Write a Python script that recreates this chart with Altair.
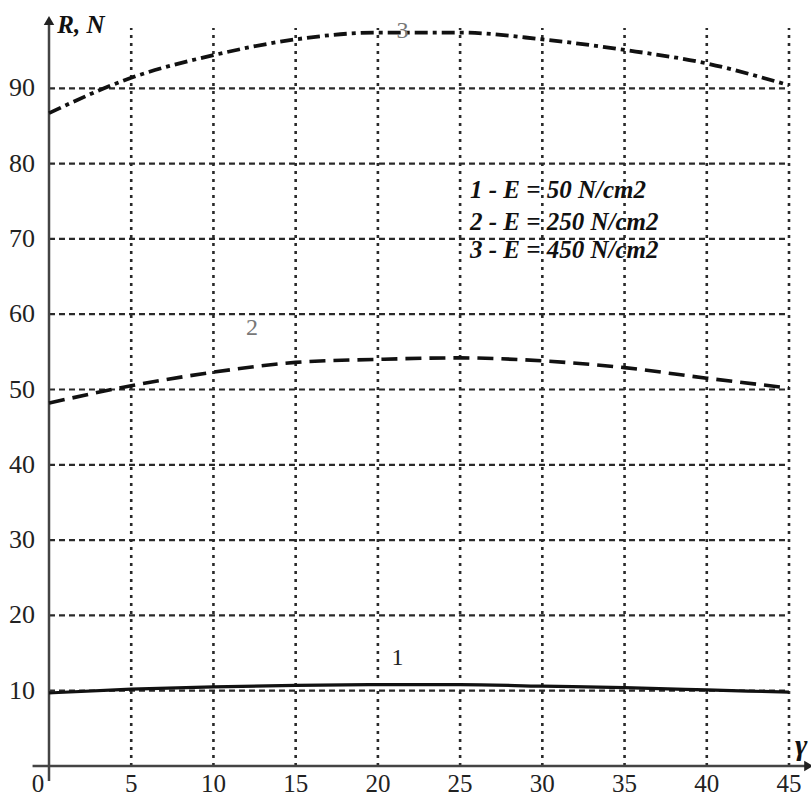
import altair as alt
import pandas as pd

# ---- data ----
gamma = [0, 5, 10, 15, 20, 25, 30, 35, 40, 45]
r1 = [9.7, 10.2, 10.5, 10.7, 10.8, 10.8, 10.6, 10.4, 10.1, 9.8]
r2 = [48.2, 50.5, 52.3, 53.6, 54.0, 54.2, 53.8, 52.9, 51.5, 50.2]
r3 = [86.7, 91.4, 94.4, 96.5, 97.4, 97.4, 96.5, 95.1, 93.3, 90.4]

x_ticks = [5, 10, 15, 20, 25, 30, 35, 40, 45]
y_ticks = [10, 20, 30, 40, 50, 60, 70, 80, 90]
legend_lines = ["1 - E = 50 N/cm2", "2 - E = 250 N/cm2", "3 - E = 450 N/cm2"]
legend_y = [76.5, 72.3, 68.5]
curve_labels = ["1", "2", "3"]
curve_label_x = [21.2, 12.35, 21.5]
curve_label_y = [14.3, 58.2, 97.6]

FONT = "Liberation Serif"
GRID = "#2a2a2a"

xs = alt.Scale(domain=[0, 45], nice=False, zero=False)
ys = alt.Scale(domain=[0, 100], nice=False, zero=False)

def X(f, **kw):
    return alt.X(f, type="quantitative", scale=xs, axis=None, **kw)

def Y(f, **kw):
    return alt.Y(f, type="quantitative", scale=ys, axis=None, **kw)

curves = pd.DataFrame({"g": gamma, "r1": r1, "r2": r2, "r3": r3})

gh = pd.DataFrame({"y": y_ticks, "x0": 0, "x1": 45})
gv = pd.DataFrame({"x": x_ticks, "y0": 0, "y1": 98})

grid_h = alt.Chart(gh).mark_rule(color=GRID, strokeWidth=2.2, strokeDash=[6, 4]).encode(
    x=X("x0"), x2="x1", y=Y("y"))
grid_v = alt.Chart(gv).mark_rule(color=GRID, strokeWidth=2.6, strokeDash=[3, 5]).encode(
    x=X("x"), y=Y("y0"), y2="y1")

axes_df = pd.DataFrame({"xa0": [-1.0], "xa1": [46.2], "ya0": [-2.0], "ya1": [99.0], "z": [0]})
x_axis = alt.Chart(axes_df).mark_rule(color="#444", strokeWidth=2.5, clip=False).encode(
    x=X("xa0"), x2="xa1", y=Y("z"))
y_axis = alt.Chart(axes_df).mark_rule(color="#444", strokeWidth=2.5, clip=False).encode(
    x=X("z"), y=Y("ya0"), y2="ya1")
arrow_x = alt.Chart(axes_df).mark_point(shape="triangle-right", filled=True, color="#222",
                                        size=110, opacity=1, clip=False).encode(
    x=X("xa1"), y=Y("z"))
arrow_y = alt.Chart(axes_df).mark_point(shape="triangle-up", filled=True, color="#222",
                                        size=110, opacity=1, clip=False).encode(
    x=X("z"), y=Y("ya1"))

line1 = alt.Chart(curves).mark_line(color="#111", strokeWidth=3.2, interpolate="monotone").encode(
    x=X("g"), y=Y("r1"))
line2 = alt.Chart(curves).mark_line(color="#111", strokeWidth=3.6, strokeDash=[16, 8],
                                    interpolate="monotone").encode(x=X("g"), y=Y("r2"))
line3 = alt.Chart(curves).mark_line(color="#111", strokeWidth=3.8, strokeDash=[13, 5, 4, 5],
                                    interpolate="monotone").encode(x=X("g"), y=Y("r3"))

xl = pd.DataFrame({"v": x_ticks, "t": [str(v) for v in x_ticks], "z": 0})
yl = pd.DataFrame({"v": y_ticks, "t": [str(v) for v in y_ticks], "z": 0})
x_labels = alt.Chart(xl).mark_text(font=FONT, fontSize=25, color="#222", dy=18,
                                   baseline="middle", align="center", clip=False).encode(
    x=X("v"), y=Y("z"), text="t:N")
zero_label = alt.Chart(pd.DataFrame({"v": [0], "t": ["0"]})).mark_text(
    font=FONT, fontSize=25, color="#222", dy=18, dx=-11, baseline="middle", align="center",
    clip=False).encode(x=X("v"), y=Y("v"), text="t:N")
y_labels = alt.Chart(yl).mark_text(font=FONT, fontSize=26, color="#222", dx=-14,
                                   baseline="middle", align="right", clip=False).encode(
    x=X("z"), y=Y("v"), text="t:N")

leg = pd.DataFrame({"t": legend_lines, "y": legend_y, "x": 25.6})
legend = alt.Chart(leg).mark_text(font=FONT, fontSize=25, fontStyle="italic", fontWeight="bold",
                                  color="#111", align="left", baseline="middle").encode(
    x=X("x"), y=Y("y"), text="t:N")

cl = pd.DataFrame({"t": curve_labels, "x": curve_label_x, "y": curve_label_y,
                   "c": ["#222", "#777", "#777"]})
clabels = alt.Chart(cl).mark_text(font=FONT, fontSize=24, align="center",
                                  baseline="middle", clip=False).encode(
    x=X("x"), y=Y("y"), text="t:N", color=alt.Color("c:N", scale=None))

titles = pd.DataFrame({"t": ["R, N"], "x": [0.5], "y": [98.4]})
rn = alt.Chart(titles).mark_text(font=FONT, fontSize=25, fontStyle="italic", fontWeight="bold",
                                 color="#111", align="left", baseline="middle", clip=False).encode(
    x=X("x"), y=Y("y"), text="t:N")
gm = alt.Chart(pd.DataFrame({"t": ["γ"], "x": [45.75], "y": [2.7]})).mark_text(
    font=FONT, fontSize=30, fontStyle="italic", fontWeight="bold", color="#111", align="center",
    baseline="middle", clip=False).encode(x=X("x"), y=Y("y"), text="t:N")

chart = alt.layer(
    grid_h, grid_v, x_axis, y_axis, arrow_x, arrow_y,
    line1, line2, line3, x_labels, zero_label, y_labels, legend, clabels, rn, gm
).properties(
    width=740, height=753,
    padding={"left": 49, "top": 13, "right": 22, "bottom": 31},
    autosize=alt.AutoSizeParams(type="none"),
    background="white",
).configure_view(stroke=None)

chart.save("out.html", embed_options={"renderer": "svg", "actions": False})
